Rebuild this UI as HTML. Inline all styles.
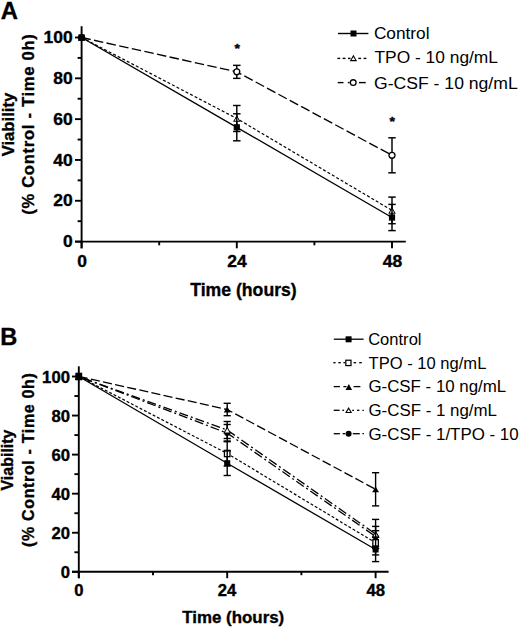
<!DOCTYPE html>
<html><head><meta charset="utf-8"><title>Viability figure</title><style>
html,body{margin:0;padding:0;background:#fff;}
svg{display:block;}
text{font-family:"Liberation Sans",sans-serif;fill:#000;stroke:#000;stroke-width:0.35px;}
text.r{stroke-width:0.0px;}
</style></head><body>
<svg width="520" height="628" viewBox="0 0 520 628">
<rect width="520" height="628" fill="#fff"/>
<line x1="81.60" y1="26.20" x2="81.60" y2="248.30" stroke="#000" stroke-width="1.9" stroke-linecap="butt"/>
<line x1="75.00" y1="241.60" x2="405.80" y2="241.60" stroke="#000" stroke-width="1.9" stroke-linecap="butt"/>
<line x1="75.00" y1="241.60" x2="81.60" y2="241.60" stroke="#000" stroke-width="1.9" stroke-linecap="butt"/>
<line x1="77.60" y1="221.19" x2="81.60" y2="221.19" stroke="#000" stroke-width="1.9" stroke-linecap="butt"/>
<line x1="75.00" y1="200.78" x2="81.60" y2="200.78" stroke="#000" stroke-width="1.9" stroke-linecap="butt"/>
<line x1="77.60" y1="180.37" x2="81.60" y2="180.37" stroke="#000" stroke-width="1.9" stroke-linecap="butt"/>
<line x1="75.00" y1="159.96" x2="81.60" y2="159.96" stroke="#000" stroke-width="1.9" stroke-linecap="butt"/>
<line x1="77.60" y1="139.55" x2="81.60" y2="139.55" stroke="#000" stroke-width="1.9" stroke-linecap="butt"/>
<line x1="75.00" y1="119.14" x2="81.60" y2="119.14" stroke="#000" stroke-width="1.9" stroke-linecap="butt"/>
<line x1="77.60" y1="98.73" x2="81.60" y2="98.73" stroke="#000" stroke-width="1.9" stroke-linecap="butt"/>
<line x1="75.00" y1="78.32" x2="81.60" y2="78.32" stroke="#000" stroke-width="1.9" stroke-linecap="butt"/>
<line x1="77.60" y1="57.91" x2="81.60" y2="57.91" stroke="#000" stroke-width="1.9" stroke-linecap="butt"/>
<line x1="75.00" y1="37.50" x2="81.60" y2="37.50" stroke="#000" stroke-width="1.9" stroke-linecap="butt"/>
<line x1="81.60" y1="241.60" x2="81.60" y2="248.30" stroke="#000" stroke-width="1.9" stroke-linecap="butt"/>
<line x1="236.80" y1="241.60" x2="236.80" y2="248.30" stroke="#000" stroke-width="1.9" stroke-linecap="butt"/>
<line x1="392.00" y1="241.60" x2="392.00" y2="248.30" stroke="#000" stroke-width="1.9" stroke-linecap="butt"/>
<line x1="159.20" y1="241.60" x2="159.20" y2="245.30" stroke="#000" stroke-width="1.9" stroke-linecap="butt"/>
<line x1="314.40" y1="241.60" x2="314.40" y2="245.30" stroke="#000" stroke-width="1.9" stroke-linecap="butt"/>
<text x="63.00" y="247.28" font-size="16.8" font-weight="bold" textLength="9.72" lengthAdjust="spacingAndGlyphs">0</text>
<text x="53.28" y="206.46" font-size="16.8" font-weight="bold" textLength="19.43" lengthAdjust="spacingAndGlyphs">20</text>
<text x="53.28" y="165.64" font-size="16.8" font-weight="bold" textLength="19.43" lengthAdjust="spacingAndGlyphs">40</text>
<text x="53.28" y="124.82" font-size="16.8" font-weight="bold" textLength="19.43" lengthAdjust="spacingAndGlyphs">60</text>
<text x="53.28" y="84.00" font-size="16.8" font-weight="bold" textLength="19.43" lengthAdjust="spacingAndGlyphs">80</text>
<text x="43.57" y="43.18" font-size="16.8" font-weight="bold" textLength="29.15" lengthAdjust="spacingAndGlyphs">100</text>
<text x="77.15" y="267.00" font-size="16.8" font-weight="bold" textLength="9.72" lengthAdjust="spacingAndGlyphs">0</text>
<text x="227.23" y="267.00" font-size="16.8" font-weight="bold" textLength="19.43" lengthAdjust="spacingAndGlyphs">24</text>
<text x="382.82" y="267.00" font-size="16.8" font-weight="bold" textLength="19.43" lengthAdjust="spacingAndGlyphs">48</text>
<text x="190.20" y="295.70" font-size="17.5" font-weight="bold" textLength="106.57" lengthAdjust="spacingAndGlyphs">Time (hours)</text>
<g transform="translate(13.60,156.20) scale(1.0,1) rotate(-90)"><text x="-0.11" y="0" font-size="17" font-weight="bold" textLength="63.50" lengthAdjust="spacingAndGlyphs">Viability</text></g>
<g transform="translate(34.30,214.00) scale(0.95,1) rotate(-90)"><text x="-0.83" y="0" font-size="16.6" font-weight="bold" textLength="180.71" lengthAdjust="spacing">(% Control - Time 0h)</text></g>
<text x="0.81" y="18.60" font-size="24" font-weight="bold" textLength="17.22" lengthAdjust="spacingAndGlyphs">A</text>
<polyline points="81.60,37.50 236.80,71.85 392.00,155.30" fill="none" stroke="#000" stroke-width="1.35" stroke-linejoin="round" stroke-dasharray="9.5 3.4" stroke-dashoffset="0.2"/>
<line x1="236.80" y1="65.35" x2="236.80" y2="71.85" stroke="#000" stroke-width="1.45" stroke-linecap="butt"/>
<line x1="236.80" y1="71.85" x2="236.80" y2="78.35" stroke="#000" stroke-width="1.45" stroke-linecap="butt"/>
<line x1="233.05" y1="65.35" x2="240.55" y2="65.35" stroke="#000" stroke-width="1.45" stroke-linecap="butt"/>
<line x1="233.05" y1="78.35" x2="240.55" y2="78.35" stroke="#000" stroke-width="1.45" stroke-linecap="butt"/>
<line x1="392.00" y1="137.80" x2="392.00" y2="155.30" stroke="#000" stroke-width="1.45" stroke-linecap="butt"/>
<line x1="392.00" y1="155.30" x2="392.00" y2="172.80" stroke="#000" stroke-width="1.45" stroke-linecap="butt"/>
<line x1="388.25" y1="137.80" x2="395.75" y2="137.80" stroke="#000" stroke-width="1.45" stroke-linecap="butt"/>
<line x1="388.25" y1="172.80" x2="395.75" y2="172.80" stroke="#000" stroke-width="1.45" stroke-linecap="butt"/>
<circle cx="81.60" cy="37.50" r="3.60" fill="#000"/>
<circle cx="81.60" cy="37.50" r="2.25" fill="#fff"/>
<circle cx="236.80" cy="71.85" r="3.60" fill="#000"/>
<circle cx="236.80" cy="71.85" r="2.25" fill="#fff"/>
<circle cx="392.00" cy="155.30" r="3.60" fill="#000"/>
<circle cx="392.00" cy="155.30" r="2.25" fill="#fff"/>
<polyline points="81.60,37.50 236.80,118.50 392.00,210.40" fill="none" stroke="#000" stroke-width="1.2" stroke-linejoin="round" stroke-dasharray="3 2.1" stroke-dashoffset="0"/>
<line x1="236.80" y1="105.50" x2="236.80" y2="118.50" stroke="#000" stroke-width="1.45" stroke-linecap="butt"/>
<line x1="236.80" y1="118.50" x2="236.80" y2="131.50" stroke="#000" stroke-width="1.45" stroke-linecap="butt"/>
<line x1="233.05" y1="105.50" x2="240.55" y2="105.50" stroke="#000" stroke-width="1.45" stroke-linecap="butt"/>
<line x1="233.05" y1="131.50" x2="240.55" y2="131.50" stroke="#000" stroke-width="1.45" stroke-linecap="butt"/>
<line x1="392.00" y1="197.10" x2="392.00" y2="210.40" stroke="#000" stroke-width="1.45" stroke-linecap="butt"/>
<line x1="392.00" y1="210.40" x2="392.00" y2="223.70" stroke="#000" stroke-width="1.45" stroke-linecap="butt"/>
<line x1="388.25" y1="197.10" x2="395.75" y2="197.10" stroke="#000" stroke-width="1.45" stroke-linecap="butt"/>
<line x1="388.25" y1="223.70" x2="395.75" y2="223.70" stroke="#000" stroke-width="1.45" stroke-linecap="butt"/>
<polygon points="81.60,34.20 85.40,40.80 77.80,40.80" fill="#000"/>
<polygon points="81.60,36.10 83.76,39.85 79.44,39.85" fill="#fff"/>
<polygon points="236.80,115.20 240.60,121.80 233.00,121.80" fill="#000"/>
<polygon points="236.80,117.10 238.96,120.85 234.64,120.85" fill="#fff"/>
<polygon points="392.00,207.10 395.80,213.70 388.20,213.70" fill="#000"/>
<polygon points="392.00,209.00 394.16,212.75 389.84,212.75" fill="#fff"/>
<polyline points="81.60,37.50 236.80,127.30 392.00,217.50" fill="none" stroke="#000" stroke-width="1.35" stroke-linejoin="round"/>
<line x1="236.80" y1="113.80" x2="236.80" y2="127.30" stroke="#000" stroke-width="1.45" stroke-linecap="butt"/>
<line x1="236.80" y1="127.30" x2="236.80" y2="140.80" stroke="#000" stroke-width="1.45" stroke-linecap="butt"/>
<line x1="233.05" y1="113.80" x2="240.55" y2="113.80" stroke="#000" stroke-width="1.45" stroke-linecap="butt"/>
<line x1="233.05" y1="140.80" x2="240.55" y2="140.80" stroke="#000" stroke-width="1.45" stroke-linecap="butt"/>
<line x1="392.00" y1="204.40" x2="392.00" y2="217.50" stroke="#000" stroke-width="1.45" stroke-linecap="butt"/>
<line x1="392.00" y1="217.50" x2="392.00" y2="230.60" stroke="#000" stroke-width="1.45" stroke-linecap="butt"/>
<line x1="388.25" y1="204.40" x2="395.75" y2="204.40" stroke="#000" stroke-width="1.45" stroke-linecap="butt"/>
<line x1="388.25" y1="230.60" x2="395.75" y2="230.60" stroke="#000" stroke-width="1.45" stroke-linecap="butt"/>
<rect x="78.50" y="34.40" width="6.20" height="6.20" fill="#000"/>
<rect x="233.70" y="124.20" width="6.20" height="6.20" fill="#000"/>
<rect x="388.90" y="214.40" width="6.20" height="6.20" fill="#000"/>
<text x="234.56" y="53.00" font-size="12" font-weight="bold" textLength="5.45" lengthAdjust="spacingAndGlyphs">*</text>
<text x="389.46" y="126.10" font-size="12" font-weight="bold" textLength="5.45" lengthAdjust="spacingAndGlyphs">*</text>
<line x1="338.00" y1="33.50" x2="368.40" y2="33.50" stroke="#000" stroke-width="1.4" stroke-linecap="butt"/>
<rect x="350.50" y="30.50" width="6.00" height="6.00" fill="#000"/>
<line x1="337.40" y1="58.40" x2="340.20" y2="58.40" stroke="#000" stroke-width="1.4" stroke-linecap="butt"/>
<line x1="342.60" y1="58.40" x2="345.50" y2="58.40" stroke="#000" stroke-width="1.4" stroke-linecap="butt"/>
<line x1="348.00" y1="58.40" x2="350.50" y2="58.40" stroke="#000" stroke-width="1.4" stroke-linecap="butt"/>
<line x1="358.30" y1="58.40" x2="361.10" y2="58.40" stroke="#000" stroke-width="1.4" stroke-linecap="butt"/>
<line x1="363.60" y1="58.40" x2="366.40" y2="58.40" stroke="#000" stroke-width="1.4" stroke-linecap="butt"/>
<polygon points="353.40,54.80 357.10,61.20 349.70,61.20" fill="#000"/>
<polygon points="353.40,57.00 355.19,60.10 351.61,60.10" fill="#fff"/>
<line x1="337.70" y1="82.60" x2="343.50" y2="82.60" stroke="#000" stroke-width="1.4" stroke-linecap="butt"/>
<line x1="347.80" y1="82.60" x2="349.60" y2="82.60" stroke="#000" stroke-width="1.4" stroke-linecap="butt"/>
<line x1="359.00" y1="82.60" x2="365.70" y2="82.60" stroke="#000" stroke-width="1.4" stroke-linecap="butt"/>
<circle cx="353.20" cy="82.60" r="3.50" fill="#000"/>
<circle cx="353.20" cy="82.60" r="2.20" fill="#fff"/>
<text class="r" x="373.92" y="39.00" font-size="16.7" font-weight="normal" textLength="55.63" lengthAdjust="spacingAndGlyphs">Control</text>
<text class="r" x="374.51" y="63.00" font-size="16.7" font-weight="normal" textLength="123.47" lengthAdjust="spacingAndGlyphs">TPO - 10 ng/mL</text>
<text class="r" x="374.02" y="89.00" font-size="16.7" font-weight="normal" textLength="143.67" lengthAdjust="spacingAndGlyphs">G-CSF - 10 ng/mL</text>
<line x1="78.80" y1="366.30" x2="78.80" y2="578.20" stroke="#000" stroke-width="1.9" stroke-linecap="butt"/>
<line x1="72.00" y1="571.80" x2="388.60" y2="571.80" stroke="#000" stroke-width="1.9" stroke-linecap="butt"/>
<line x1="72.00" y1="571.80" x2="78.80" y2="571.80" stroke="#000" stroke-width="1.9" stroke-linecap="butt"/>
<line x1="74.40" y1="552.27" x2="78.80" y2="552.27" stroke="#000" stroke-width="1.9" stroke-linecap="butt"/>
<line x1="72.00" y1="532.74" x2="78.80" y2="532.74" stroke="#000" stroke-width="1.9" stroke-linecap="butt"/>
<line x1="74.40" y1="513.21" x2="78.80" y2="513.21" stroke="#000" stroke-width="1.9" stroke-linecap="butt"/>
<line x1="72.00" y1="493.68" x2="78.80" y2="493.68" stroke="#000" stroke-width="1.9" stroke-linecap="butt"/>
<line x1="74.40" y1="474.15" x2="78.80" y2="474.15" stroke="#000" stroke-width="1.9" stroke-linecap="butt"/>
<line x1="72.00" y1="454.62" x2="78.80" y2="454.62" stroke="#000" stroke-width="1.9" stroke-linecap="butt"/>
<line x1="74.40" y1="435.09" x2="78.80" y2="435.09" stroke="#000" stroke-width="1.9" stroke-linecap="butt"/>
<line x1="72.00" y1="415.56" x2="78.80" y2="415.56" stroke="#000" stroke-width="1.9" stroke-linecap="butt"/>
<line x1="74.40" y1="396.03" x2="78.80" y2="396.03" stroke="#000" stroke-width="1.9" stroke-linecap="butt"/>
<line x1="72.00" y1="376.50" x2="78.80" y2="376.50" stroke="#000" stroke-width="1.9" stroke-linecap="butt"/>
<line x1="78.80" y1="571.80" x2="78.80" y2="578.20" stroke="#000" stroke-width="1.9" stroke-linecap="butt"/>
<line x1="227.20" y1="571.80" x2="227.20" y2="578.20" stroke="#000" stroke-width="1.9" stroke-linecap="butt"/>
<line x1="375.60" y1="571.80" x2="375.60" y2="578.20" stroke="#000" stroke-width="1.9" stroke-linecap="butt"/>
<line x1="153.00" y1="571.80" x2="153.00" y2="575.20" stroke="#000" stroke-width="1.9" stroke-linecap="butt"/>
<line x1="301.40" y1="571.80" x2="301.40" y2="575.20" stroke="#000" stroke-width="1.9" stroke-linecap="butt"/>
<text x="60.70" y="577.97" font-size="15.6" font-weight="bold" textLength="9.28" lengthAdjust="spacingAndGlyphs">0</text>
<text x="51.42" y="538.91" font-size="15.6" font-weight="bold" textLength="18.57" lengthAdjust="spacingAndGlyphs">20</text>
<text x="51.42" y="499.85" font-size="15.6" font-weight="bold" textLength="18.57" lengthAdjust="spacingAndGlyphs">40</text>
<text x="51.42" y="460.79" font-size="15.6" font-weight="bold" textLength="18.57" lengthAdjust="spacingAndGlyphs">60</text>
<text x="51.42" y="421.73" font-size="15.6" font-weight="bold" textLength="18.57" lengthAdjust="spacingAndGlyphs">80</text>
<text x="42.13" y="382.67" font-size="15.6" font-weight="bold" textLength="27.85" lengthAdjust="spacingAndGlyphs">100</text>
<text x="74.17" y="596.00" font-size="15.6" font-weight="bold" textLength="9.28" lengthAdjust="spacingAndGlyphs">0</text>
<text x="217.67" y="596.00" font-size="15.6" font-weight="bold" textLength="18.57" lengthAdjust="spacingAndGlyphs">24</text>
<text x="366.45" y="596.00" font-size="15.6" font-weight="bold" textLength="18.57" lengthAdjust="spacingAndGlyphs">48</text>
<text x="182.31" y="623.30" font-size="16.8" font-weight="bold" textLength="101.93" lengthAdjust="spacingAndGlyphs">Time (hours)</text>
<g transform="translate(13.40,490.40) scale(1.0,1) rotate(-90)"><text x="-0.11" y="0" font-size="16.3" font-weight="bold" textLength="60.99" lengthAdjust="spacingAndGlyphs">Viability</text></g>
<g transform="translate(33.90,546.20) scale(1.0,1) rotate(-90)"><text x="-0.80" y="0" font-size="16.0" font-weight="bold" textLength="173.81" lengthAdjust="spacing">(% Control - Time 0h)</text></g>
<text x="0.22" y="345.00" font-size="24" font-weight="bold" textLength="17.05" lengthAdjust="spacingAndGlyphs">B</text>
<polyline points="78.80,376.50 227.20,433.10 375.60,536.50" fill="none" stroke="#000" stroke-width="1.3" stroke-linejoin="round" stroke-dasharray="9 3 2 3" stroke-dashoffset="11.9"/>
<line x1="227.20" y1="424.50" x2="227.20" y2="433.10" stroke="#000" stroke-width="1.4" stroke-linecap="butt"/>
<line x1="227.20" y1="433.10" x2="227.20" y2="441.70" stroke="#000" stroke-width="1.4" stroke-linecap="butt"/>
<line x1="223.60" y1="424.50" x2="230.80" y2="424.50" stroke="#000" stroke-width="1.4" stroke-linecap="butt"/>
<line x1="223.60" y1="441.70" x2="230.80" y2="441.70" stroke="#000" stroke-width="1.4" stroke-linecap="butt"/>
<line x1="375.60" y1="526.40" x2="375.60" y2="536.50" stroke="#000" stroke-width="1.4" stroke-linecap="butt"/>
<line x1="375.60" y1="536.50" x2="375.60" y2="546.60" stroke="#000" stroke-width="1.4" stroke-linecap="butt"/>
<line x1="372.00" y1="526.40" x2="379.20" y2="526.40" stroke="#000" stroke-width="1.4" stroke-linecap="butt"/>
<line x1="372.00" y1="546.60" x2="379.20" y2="546.60" stroke="#000" stroke-width="1.4" stroke-linecap="butt"/>
<circle cx="78.80" cy="376.50" r="3.00" fill="#000"/>
<circle cx="227.20" cy="433.10" r="3.00" fill="#000"/>
<circle cx="375.60" cy="536.50" r="3.00" fill="#000"/>
<polyline points="78.80,376.50 227.20,430.00 375.60,534.00" fill="none" stroke="#000" stroke-width="1.3" stroke-linejoin="round" stroke-dasharray="9 3 2 3" stroke-dashoffset="11.9"/>
<line x1="227.20" y1="421.50" x2="227.20" y2="430.00" stroke="#000" stroke-width="1.4" stroke-linecap="butt"/>
<line x1="227.20" y1="430.00" x2="227.20" y2="438.50" stroke="#000" stroke-width="1.4" stroke-linecap="butt"/>
<line x1="223.60" y1="421.50" x2="230.80" y2="421.50" stroke="#000" stroke-width="1.4" stroke-linecap="butt"/>
<line x1="223.60" y1="438.50" x2="230.80" y2="438.50" stroke="#000" stroke-width="1.4" stroke-linecap="butt"/>
<line x1="375.60" y1="519.40" x2="375.60" y2="534.00" stroke="#000" stroke-width="1.4" stroke-linecap="butt"/>
<line x1="375.60" y1="534.00" x2="375.60" y2="548.60" stroke="#000" stroke-width="1.4" stroke-linecap="butt"/>
<line x1="372.00" y1="519.40" x2="379.20" y2="519.40" stroke="#000" stroke-width="1.4" stroke-linecap="butt"/>
<line x1="372.00" y1="548.60" x2="379.20" y2="548.60" stroke="#000" stroke-width="1.4" stroke-linecap="butt"/>
<polygon points="78.80,373.10 82.70,379.90 74.90,379.90" fill="#000"/>
<polygon points="78.80,375.01 81.06,378.95 76.54,378.95" fill="#fff"/>
<polygon points="227.20,426.60 231.10,433.40 223.30,433.40" fill="#000"/>
<polygon points="227.20,428.51 229.46,432.45 224.94,432.45" fill="#fff"/>
<polygon points="375.60,530.60 379.50,537.40 371.70,537.40" fill="#000"/>
<polygon points="375.60,532.51 377.86,536.45 373.34,536.45" fill="#fff"/>
<polyline points="78.80,376.50 227.20,409.50 375.60,489.30" fill="none" stroke="#000" stroke-width="1.3" stroke-linejoin="round" stroke-dasharray="9.1 3.3" stroke-dashoffset="0"/>
<line x1="227.20" y1="403.30" x2="227.20" y2="409.50" stroke="#000" stroke-width="1.4" stroke-linecap="butt"/>
<line x1="227.20" y1="409.50" x2="227.20" y2="415.70" stroke="#000" stroke-width="1.4" stroke-linecap="butt"/>
<line x1="223.60" y1="403.30" x2="230.80" y2="403.30" stroke="#000" stroke-width="1.4" stroke-linecap="butt"/>
<line x1="223.60" y1="415.70" x2="230.80" y2="415.70" stroke="#000" stroke-width="1.4" stroke-linecap="butt"/>
<line x1="375.60" y1="472.70" x2="375.60" y2="489.30" stroke="#000" stroke-width="1.4" stroke-linecap="butt"/>
<line x1="375.60" y1="489.30" x2="375.60" y2="505.90" stroke="#000" stroke-width="1.4" stroke-linecap="butt"/>
<line x1="372.00" y1="472.70" x2="379.20" y2="472.70" stroke="#000" stroke-width="1.4" stroke-linecap="butt"/>
<line x1="372.00" y1="505.90" x2="379.20" y2="505.90" stroke="#000" stroke-width="1.4" stroke-linecap="butt"/>
<polygon points="78.80,373.55 82.20,379.45 75.40,379.45" fill="#000"/>
<polygon points="227.20,406.55 230.60,412.45 223.80,412.45" fill="#000"/>
<polygon points="375.60,486.35 379.00,492.25 372.20,492.25" fill="#000"/>
<polyline points="78.80,376.50 227.20,453.50 375.60,542.80" fill="none" stroke="#000" stroke-width="1.2" stroke-linejoin="round" stroke-dasharray="2.9 2.0" stroke-dashoffset="0"/>
<line x1="227.20" y1="441.00" x2="227.20" y2="453.50" stroke="#000" stroke-width="1.4" stroke-linecap="butt"/>
<line x1="227.20" y1="453.50" x2="227.20" y2="466.00" stroke="#000" stroke-width="1.4" stroke-linecap="butt"/>
<line x1="223.60" y1="441.00" x2="230.80" y2="441.00" stroke="#000" stroke-width="1.4" stroke-linecap="butt"/>
<line x1="223.60" y1="466.00" x2="230.80" y2="466.00" stroke="#000" stroke-width="1.4" stroke-linecap="butt"/>
<line x1="375.60" y1="530.70" x2="375.60" y2="542.80" stroke="#000" stroke-width="1.4" stroke-linecap="butt"/>
<line x1="375.60" y1="542.80" x2="375.60" y2="554.90" stroke="#000" stroke-width="1.4" stroke-linecap="butt"/>
<line x1="372.00" y1="530.70" x2="379.20" y2="530.70" stroke="#000" stroke-width="1.4" stroke-linecap="butt"/>
<line x1="372.00" y1="554.90" x2="379.20" y2="554.90" stroke="#000" stroke-width="1.4" stroke-linecap="butt"/>
<rect x="75.40" y="372.70" width="6.80" height="7.60" fill="#000"/>
<rect x="76.70" y="374.00" width="4.20" height="5.00" fill="#fff"/>
<rect x="223.80" y="449.70" width="6.80" height="7.60" fill="#000"/>
<rect x="225.10" y="451.00" width="4.20" height="5.00" fill="#fff"/>
<rect x="372.20" y="539.00" width="6.80" height="7.60" fill="#000"/>
<rect x="373.50" y="540.30" width="4.20" height="5.00" fill="#fff"/>
<polyline points="78.80,376.50 227.20,463.20 375.60,549.50" fill="none" stroke="#000" stroke-width="1.3" stroke-linejoin="round"/>
<line x1="227.20" y1="450.90" x2="227.20" y2="463.20" stroke="#000" stroke-width="1.4" stroke-linecap="butt"/>
<line x1="227.20" y1="463.20" x2="227.20" y2="475.50" stroke="#000" stroke-width="1.4" stroke-linecap="butt"/>
<line x1="223.60" y1="450.90" x2="230.80" y2="450.90" stroke="#000" stroke-width="1.4" stroke-linecap="butt"/>
<line x1="223.60" y1="475.50" x2="230.80" y2="475.50" stroke="#000" stroke-width="1.4" stroke-linecap="butt"/>
<line x1="375.60" y1="537.40" x2="375.60" y2="549.50" stroke="#000" stroke-width="1.4" stroke-linecap="butt"/>
<line x1="375.60" y1="549.50" x2="375.60" y2="561.60" stroke="#000" stroke-width="1.4" stroke-linecap="butt"/>
<line x1="372.00" y1="537.40" x2="379.20" y2="537.40" stroke="#000" stroke-width="1.4" stroke-linecap="butt"/>
<line x1="372.00" y1="561.60" x2="379.20" y2="561.60" stroke="#000" stroke-width="1.4" stroke-linecap="butt"/>
<rect x="75.80" y="373.50" width="6.00" height="6.00" fill="#000"/>
<rect x="224.20" y="460.20" width="6.00" height="6.00" fill="#000"/>
<rect x="372.60" y="546.50" width="6.00" height="6.00" fill="#000"/>
<line x1="333.80" y1="339.20" x2="363.60" y2="339.20" stroke="#000" stroke-width="1.3" stroke-linecap="butt"/>
<rect x="345.60" y="336.30" width="6.00" height="6.00" fill="#000"/>
<line x1="333.30" y1="362.70" x2="335.60" y2="362.70" stroke="#000" stroke-width="1.3" stroke-linecap="butt"/>
<line x1="338.30" y1="362.70" x2="340.80" y2="362.70" stroke="#000" stroke-width="1.3" stroke-linecap="butt"/>
<line x1="343.40" y1="362.70" x2="345.00" y2="362.70" stroke="#000" stroke-width="1.3" stroke-linecap="butt"/>
<line x1="353.60" y1="362.70" x2="356.10" y2="362.70" stroke="#000" stroke-width="1.3" stroke-linecap="butt"/>
<line x1="359.20" y1="362.70" x2="361.80" y2="362.70" stroke="#000" stroke-width="1.3" stroke-linecap="butt"/>
<rect x="345.20" y="359.60" width="6.40" height="6.60" fill="#000"/>
<rect x="346.45" y="360.85" width="3.90" height="4.10" fill="#fff"/>
<line x1="333.70" y1="386.60" x2="339.90" y2="386.60" stroke="#000" stroke-width="1.3" stroke-linecap="butt"/>
<line x1="343.40" y1="386.60" x2="346.50" y2="386.60" stroke="#000" stroke-width="1.3" stroke-linecap="butt"/>
<line x1="353.60" y1="386.60" x2="360.40" y2="386.60" stroke="#000" stroke-width="1.3" stroke-linecap="butt"/>
<polygon points="348.80,384.10 352.10,389.90 345.50,389.90" fill="#000"/>
<line x1="333.70" y1="410.30" x2="339.60" y2="410.30" stroke="#000" stroke-width="1.3" stroke-linecap="butt"/>
<line x1="342.30" y1="410.30" x2="344.10" y2="410.30" stroke="#000" stroke-width="1.3" stroke-linecap="butt"/>
<line x1="352.20" y1="410.30" x2="354.00" y2="410.30" stroke="#000" stroke-width="1.3" stroke-linecap="butt"/>
<line x1="357.00" y1="410.30" x2="359.40" y2="410.30" stroke="#000" stroke-width="1.3" stroke-linecap="butt"/>
<line x1="362.40" y1="410.30" x2="363.80" y2="410.30" stroke="#000" stroke-width="1.3" stroke-linecap="butt"/>
<polygon points="348.60,407.10 352.10,413.10 345.10,413.10" fill="#000"/>
<polygon points="348.60,409.18 350.27,412.05 346.93,412.05" fill="#fff"/>
<line x1="333.70" y1="433.70" x2="339.90" y2="433.70" stroke="#000" stroke-width="1.3" stroke-linecap="butt"/>
<line x1="342.60" y1="433.70" x2="345.20" y2="433.70" stroke="#000" stroke-width="1.3" stroke-linecap="butt"/>
<line x1="352.80" y1="433.70" x2="359.80" y2="433.70" stroke="#000" stroke-width="1.3" stroke-linecap="butt"/>
<line x1="362.40" y1="433.70" x2="363.90" y2="433.70" stroke="#000" stroke-width="1.3" stroke-linecap="butt"/>
<circle cx="348.60" cy="433.70" r="3.00" fill="#000"/>
<text class="r" x="368.16" y="345.00" font-size="16.0" font-weight="normal" textLength="53.35" lengthAdjust="spacingAndGlyphs">Control</text>
<text class="r" x="368.63" y="369.00" font-size="16.0" font-weight="normal" textLength="117.72" lengthAdjust="spacingAndGlyphs">TPO - 10 ng/mL</text>
<text class="r" x="368.45" y="392.00" font-size="16.0" font-weight="normal" textLength="137.81" lengthAdjust="spacingAndGlyphs">G-CSF - 10 ng/mL</text>
<text class="r" x="368.45" y="416.00" font-size="16.0" font-weight="normal" textLength="128.51" lengthAdjust="spacingAndGlyphs">G-CSF - 1 ng/mL</text>
<text class="r" x="368.45" y="440.00" font-size="16.0" font-weight="normal" textLength="150.21" lengthAdjust="spacingAndGlyphs">G-CSF - 1/TPO - 10</text>
</svg>
</body></html>
